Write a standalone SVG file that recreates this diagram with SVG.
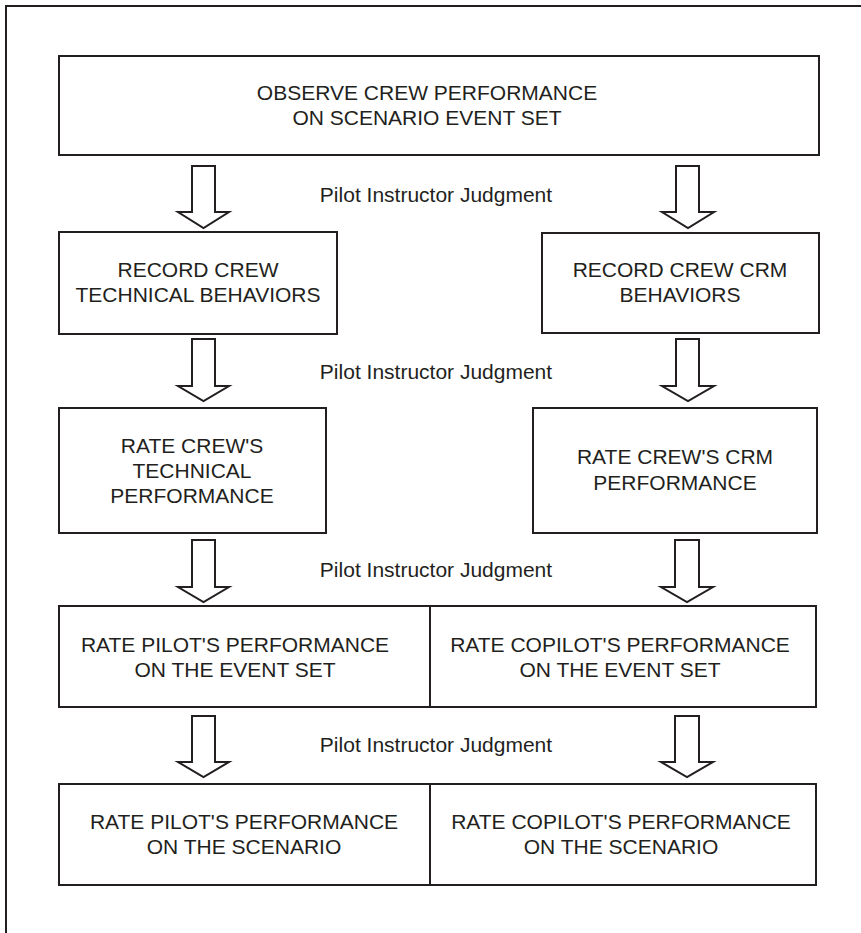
<svg xmlns="http://www.w3.org/2000/svg" width="861" height="933" viewBox="0 0 861 933">
<style>
.box{fill:#fff;stroke:#231f20;stroke-width:2}
.arr{fill:#fff;stroke:#231f20;stroke-width:2;stroke-linejoin:miter}
.t{font-family:"Liberation Sans",Arial,sans-serif;font-size:21px;fill:#231f20;text-anchor:middle}
.lbl{font-family:"Liberation Sans",Arial,sans-serif;font-size:21px;fill:#231f20;text-anchor:middle}
</style>
<rect width="861" height="933" fill="#fff"/>
<path d="M6,933 V6 H861" fill="none" stroke="#231f20" stroke-width="2"/>

<g id="observe">
<rect class="box" x="59" y="56" width="760" height="99"/>
<text class="t" x="427" y="100">OBSERVE CREW PERFORMANCE</text>
<text class="t" x="427" y="125">ON SCENARIO EVENT SET</text>
</g>

<g id="record-tech">
<rect class="box" x="59" y="232" width="278" height="102"/>
<text class="t" x="198" y="277">RECORD CREW</text>
<text class="t" x="198" y="302">TECHNICAL BEHAVIORS</text>
</g>

<g id="record-crm">
<rect class="box" x="542" y="233" width="277" height="100"/>
<text class="t" x="680" y="277">RECORD CREW CRM</text>
<text class="t" x="680" y="302">BEHAVIORS</text>
</g>

<g id="rate-tech">
<rect class="box" x="59" y="408" width="267" height="125"/>
<text class="t" x="192" y="453">RATE CREW'S</text>
<text class="t" x="192" y="478">TECHNICAL</text>
<text class="t" x="192" y="503">PERFORMANCE</text>
</g>

<g id="rate-crm">
<rect class="box" x="533" y="408" width="284" height="125"/>
<text class="t" x="675" y="464">RATE CREW'S CRM</text>
<text class="t" x="675" y="490">PERFORMANCE</text>
</g>

<g id="pilot-event">
<rect class="box" x="59" y="606" width="371" height="101"/>
<text class="t" x="235" y="652">RATE PILOT'S PERFORMANCE</text>
<text class="t" x="235" y="677">ON THE EVENT SET</text>
</g>

<g id="copilot-event">
<rect class="box" x="430" y="606" width="386" height="101"/>
<text class="t" x="620" y="652">RATE COPILOT'S PERFORMANCE</text>
<text class="t" x="620" y="677">ON THE EVENT SET</text>
</g>

<g id="pilot-scenario">
<rect class="box" x="59" y="784" width="371" height="101"/>
<text class="t" x="244" y="829">RATE PILOT'S PERFORMANCE</text>
<text class="t" x="244" y="854">ON THE SCENARIO</text>
</g>

<g id="copilot-scenario">
<rect class="box" x="430" y="784" width="386" height="101"/>
<text class="t" x="621" y="829">RATE COPILOT'S PERFORMANCE</text>
<text class="t" x="621" y="854">ON THE SCENARIO</text>
</g>

<g id="connectors">
<path class="arr" d="M192,166 H215 V212 H229 L203.5,228 L178,212 H192 Z"/>
<path class="arr" d="M676,166 H699 V212 H714 L688,228 L662,212 H676 Z"/>
<path class="arr" d="M192,339 H215 V386 H229 L203.5,401 L178,386 H192 Z"/>
<path class="arr" d="M676,339 H699 V386 H714 L688,401 L662,386 H676 Z"/>
<path class="arr" d="M192,540 H215 V587 H229 L203.5,602 L178,587 H192 Z"/>
<path class="arr" d="M675,540 H699 V587 H713 L687,602 L661,587 H675 Z"/>
<path class="arr" d="M192,716 H215 V762 H229 L203.5,777 L178,762 H192 Z"/>
<path class="arr" d="M675,716 H699 V762 H713 L687,777 L661,762 H675 Z"/>
<text class="lbl" x="436" y="202">Pilot Instructor Judgment</text>
<text class="lbl" x="436" y="379">Pilot Instructor Judgment</text>
<text class="lbl" x="436" y="577">Pilot Instructor Judgment</text>
<text class="lbl" x="436" y="752">Pilot Instructor Judgment</text>
</g>
</svg>
